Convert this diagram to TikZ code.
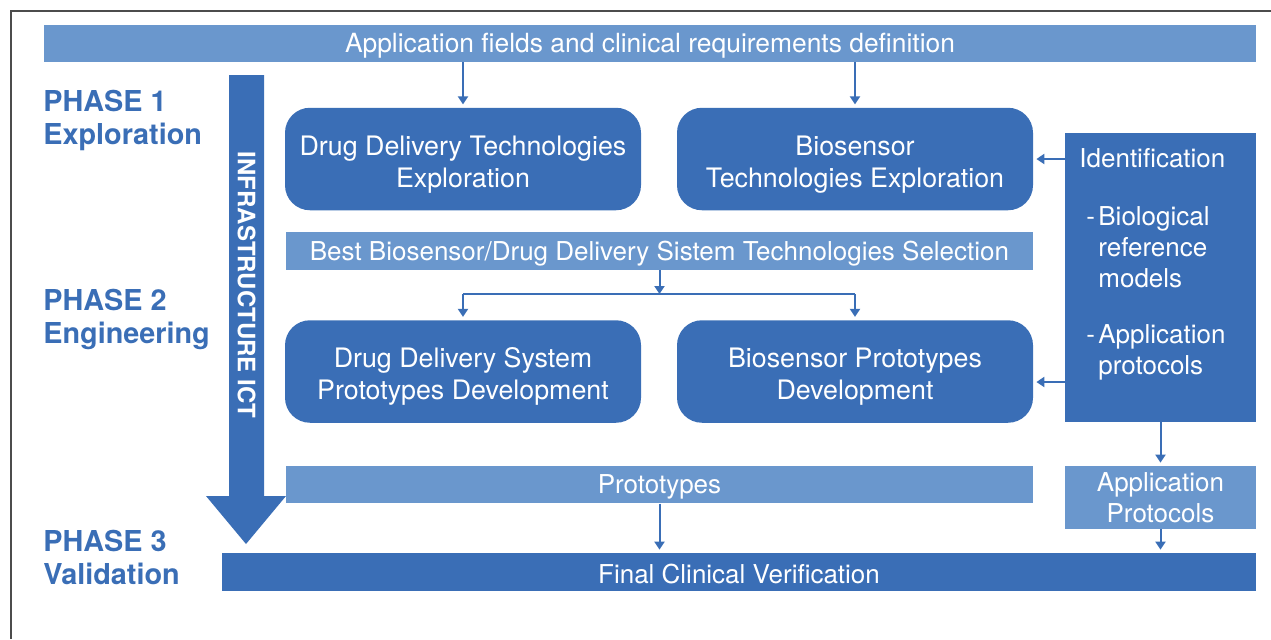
\documentclass[tikz,border=0pt]{standalone}
\usepackage{fontspec}
\setmainfont{TeX Gyre Heros}
\usetikzlibrary{arrows.meta}

\begin{document}
\begin{tikzpicture}[x=0.5pt,y=-0.5pt,
  dark/.style={fill=box blue, text=white, inner sep=0pt, align=center, font=\fontsize{13}{15.75}\selectfont,
    execute at begin node=\rule{0pt}{12pt}},
  light/.style={dark, fill=bar blue},
  block/.style={dark, rounded corners=12.5pt, minimum width=178pt, minimum height=51.25pt,
    font=\fontsize{13.4}{16}\selectfont, execute at begin node={}},
  bar/.style={light, minimum width=373.5pt, minimum height=18.75pt},
  phase/.style={anchor=west, align=left, inner sep=0pt, text=box blue, font=\fontsize{14.4}{16.5}\selectfont\bfseries},
  link/.style={draw=box blue, line width=1pt, -{Triangle[width=5pt,length=4pt]}, shorten >=1.5pt}]

\definecolor{box blue}{RGB}{58,110,182}
\definecolor{bar blue}{RGB}{106,151,205}
\definecolor{frame}{gray}{0.3}

\useasboundingbox (0,0) rectangle (1271,639);
\draw[frame, line width=0.75pt] (1271,11) -- (11,11) -- (11,639);

% phases on the left
\node[phase] (ph1) at (43,120) {PHASE 1\\Exploration};
\node[phase] (ph2) at (43,319) {PHASE 2\\Engineering};
\node[phase] (ph3) at (43,557) {PHASE 3\\Validation};

% ICT arrow running down through all phases
\fill[box blue] (229,75) -- (264,75) -- (264,496) -- (286,496) -- (246,544) -- (206,496) -- (229,496) -- cycle;
\node[rotate=-90, text=white, inner sep=0pt, font=\fontsize{12}{14}\selectfont\bfseries] (ict) at (246.5,285) {INFRASTRUCTURE ICT};

\node[light, minimum width=606pt, minimum height=18.5pt, font=\fontsize{13.2}{15.75}\selectfont] (reqs) at (650,43.5) {Application fields and clinical requirements definition};

% two-line blocks, first line lifted a little so the text sits lower
\node[block] (ddtexp) at (463,159) {\rule{0pt}{15pt}Drug Delivery Technologies\\Exploration};
\node[block] (bioexp) at (855,159) {\rule{0pt}{15pt}Biosensor\\Technologies Exploration};

\node[bar] (select) at (659.5,251) {Best Biosensor/Drug Delivery Sistem Technologies Selection};

\node[block] (ddsproto) at (463,371.5) {\rule{0pt}{15pt}Drug Delivery System\\Prototypes Development};
\node[block] (bioproto) at (855,371.5) {\rule{0pt}{15pt}Biosensor Prototypes\\Development};

\node[dark, minimum width=95.5pt, minimum height=144.5pt] (ident) at (1160.5,277.5) {};
\node[anchor=north west, align=left, inner sep=0pt, text=white, font=\fontsize{13}{15.5}\selectfont] (idtext) at (1079,148)
  {Identification\\[13.5pt]
   \hspace*{3.5pt}\makebox[6pt][l]{-}Biological\\
   \hspace*{9.5pt}reference\\
   \hspace*{9.5pt}models\\[12.5pt]
   \hspace*{3.5pt}\makebox[6pt][l]{-}Application\\
   \hspace*{9.5pt}protocols};

\node[bar] (proto) at (659.5,484.5) {Prototypes};
\node[light, minimum width=95.5pt, minimum height=31.5pt] (appprot) at (1160.5,497.5) {Application\\Protocols};

\node[dark, minimum width=517pt, minimum height=19pt] (final) at (739,572) {Final Clinical Verification};

% connectors
\draw[link] (reqs.south -| ddtexp.north) -- (ddtexp.north);
\draw[link] (reqs.south -| bioexp.north) -- (bioexp.north);
\draw[link] (ident.west |- bioexp.east) -- (bioexp.east);
\draw[link] (ident.west |- 0,382) -- (bioproto.east |- 0,382);

\coordinate (fork) at (659.5,294);
\draw[link, shorten >=0pt] (select.south) -- (fork);
\draw[box blue, line width=1pt] (fork -| ddsproto) -- (fork -| bioproto);
\draw[link] (fork -| ddsproto) -- (ddsproto.north);
\draw[link] (fork -| bioproto) -- (bioproto.north);

\draw[link] (ident.south) -- (appprot.north);
\draw[link] (proto.south) -- (proto.south |- final.north);
\draw[link] (appprot.south) -- (appprot.south |- final.north);

\end{tikzpicture}
\end{document}
